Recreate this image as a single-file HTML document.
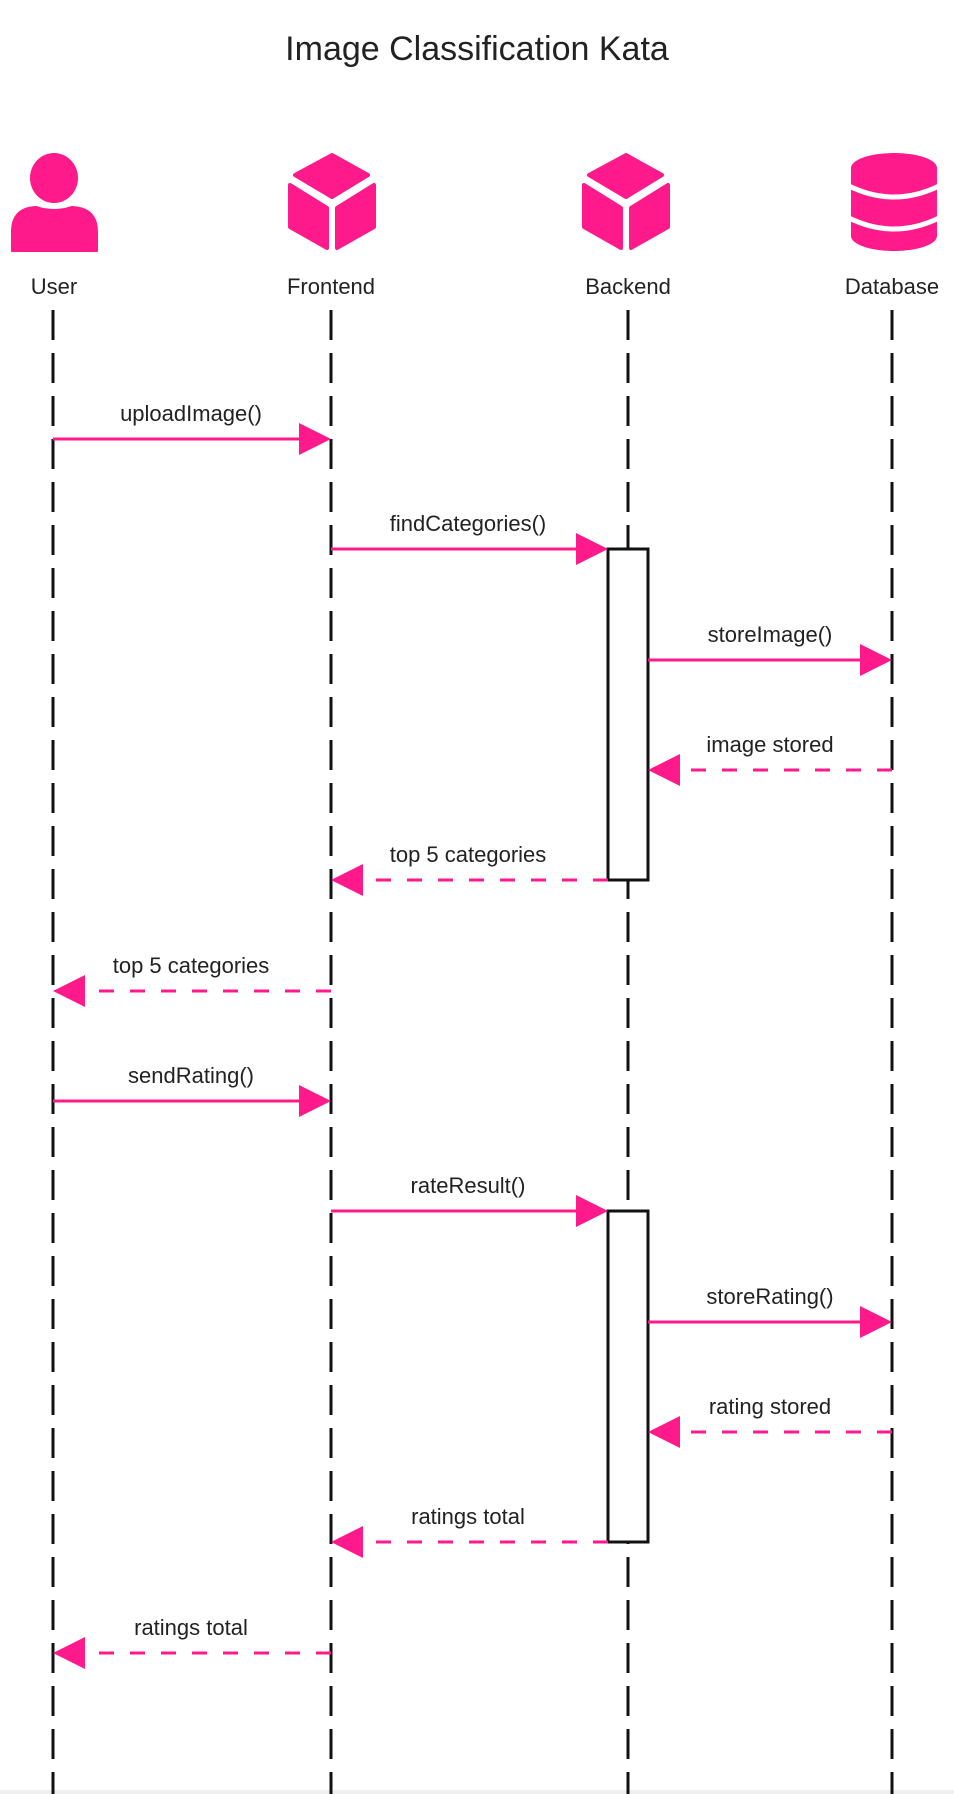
<!DOCTYPE html>
<html><head><meta charset="utf-8"><style>
html,body{margin:0;padding:0;background:#fff;}
svg{display:block}
text{font-family:"Liberation Sans",Arial,sans-serif;}
</style></head><body>
<svg width="954" height="1794" viewBox="0 0 954 1794" xmlns="http://www.w3.org/2000/svg">
<rect x="0" y="0" width="954" height="1794" fill="#fff"/>
<rect x="0" y="1790" width="954" height="4" fill="#f0f0f0"/>
<text x="477" y="60" font-size="34" text-anchor="middle" fill="#222">Image Classification Kata</text>

<!-- icons -->
<g fill="#ff1a8c" stroke="#ff1a8c" stroke-linejoin="round">
<ellipse cx="54" cy="178" rx="24" ry="25" stroke="none"/>
<path d="M12 251 L12 232 Q12 208 36 207 Q54 213 72 207 Q97 208 97 232 L97 251 Z" stroke-width="2"/>
<g stroke-width="4">
<polygon points="332,155 368,175 332,197 295,175"/>
<polygon points="290,185 327,208 327,248 290,227"/>
<polygon points="337,208 374,185 374,227 337,248"/>
<polygon points="626,155 662,175 626,197 589,175"/>
<polygon points="584,185 621,208 621,248 584,227"/>
<polygon points="631,208 668,185 668,227 631,248"/>
</g>
<ellipse cx="894" cy="168" rx="43" ry="15" stroke="none"/>
<rect x="851" y="168" width="86" height="68" stroke="none"/>
<ellipse cx="894" cy="236" rx="43" ry="15" stroke="none"/>
</g>
<g fill="none" stroke="#fff" stroke-width="5">
<path d="M849 186 Q894 208 939 186"/>
<path d="M849 218 Q894 240 939 218"/>
</g>

<g font-size="22" fill="#222" text-anchor="middle">
<text x="54" y="294">User</text>
<text x="331" y="294">Frontend</text>
<text x="628" y="294">Backend</text>
<text x="892" y="294">Database</text>
</g>

<!-- lifelines -->
<g stroke="#111" stroke-width="3" stroke-dasharray="30 13">
<line x1="53" y1="310" x2="53" y2="1794"/>
<line x1="331" y1="310" x2="331" y2="1794"/>
<line x1="628" y1="310" x2="628" y2="1794"/>
<line x1="892" y1="310" x2="892" y2="1794"/>
</g>

<!-- activations -->
<rect x="608" y="549" width="40" height="331" fill="#fff" stroke="#111" stroke-width="3"/>
<rect x="608" y="1211" width="40" height="331" fill="#fff" stroke="#111" stroke-width="3"/>

<g stroke="#ff1a8c" stroke-width="3">
<line x1="53" y1="439" x2="300" y2="439"/>
<line x1="331" y1="549" x2="578" y2="549"/>
<line x1="648" y1="660" x2="862" y2="660"/>
<line x1="53" y1="1101" x2="300" y2="1101"/>
<line x1="331" y1="1211" x2="578" y2="1211"/>
<line x1="648" y1="1322" x2="862" y2="1322"/>
</g>
<g stroke="#ff1a8c" stroke-width="3" stroke-dasharray="15 16">
<line x1="892" y1="770" x2="680" y2="770"/>
<line x1="608" y1="880" x2="363" y2="880"/>
<line x1="331" y1="991" x2="85" y2="991"/>
<line x1="892" y1="1432" x2="680" y2="1432"/>
<line x1="608" y1="1542" x2="363" y2="1542"/>
<line x1="331" y1="1653" x2="85" y2="1653"/>
</g>
<g fill="#ff1a8c">
<polygon points="331,439 299,423 299,455"/>
<polygon points="608,549 576,533 576,565"/>
<polygon points="892,660 860,644 860,676"/>
<polygon points="648,770 680,754 680,786"/>
<polygon points="331,880 363,864 363,896"/>
<polygon points="53,991 85,975 85,1007"/>
<polygon points="331,1101 299,1085 299,1117"/>
<polygon points="608,1211 576,1195 576,1227"/>
<polygon points="892,1322 860,1306 860,1338"/>
<polygon points="648,1432 680,1416 680,1448"/>
<polygon points="331,1542 363,1526 363,1558"/>
<polygon points="53,1653 85,1637 85,1669"/>
</g>

<g font-size="22" fill="#222" text-anchor="middle">
<text x="191" y="421">uploadImage()</text>
<text x="468" y="531">findCategories()</text>
<text x="770" y="642">storeImage()</text>
<text x="770" y="752">image stored</text>
<text x="468" y="862">top 5 categories</text>
<text x="191" y="973">top 5 categories</text>
<text x="191" y="1083">sendRating()</text>
<text x="468" y="1193">rateResult()</text>
<text x="770" y="1304">storeRating()</text>
<text x="770" y="1414">rating stored</text>
<text x="468" y="1524">ratings total</text>
<text x="191" y="1635">ratings total</text>
</g>
</svg>
</body></html>
